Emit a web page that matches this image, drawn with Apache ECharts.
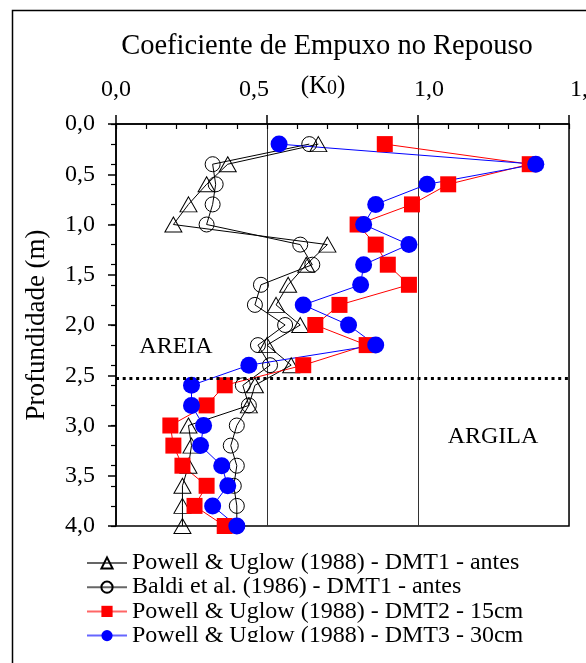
<!DOCTYPE html>
<html>
<head>
<meta charset="utf-8">
<script src="https://cdn.jsdelivr.net/npm/echarts@6/dist/echarts.min.js"></script>
<style>
  html, body { margin: 0; padding: 0; background: #fff; }
  #chart { width: 586px; height: 663px; }
</style>
</head>
<body>
<div id="chart"></div>
<script>
// Depth of each reading (m)
const depth = [0.2, 0.4, 0.6, 0.8, 1.0, 1.2, 1.4, 1.6, 1.8, 2.0,
               2.2, 2.4, 2.6, 2.8, 3.0, 3.2, 3.4, 3.6, 3.8, 4.0];

// K0 profiles
const k0PowellDmt1 = [0.67, 0.37, 0.30, 0.24, 0.19, 0.70, 0.63, 0.57, 0.53, 0.61,
                      0.50, 0.58, 0.46, 0.44, 0.24, 0.25, 0.24, 0.22, 0.22, 0.22];
const k0BaldiDmt1  = [0.64, 0.32, 0.33, 0.32, 0.30, 0.61, 0.65, 0.48, 0.46, 0.56,
                      0.47, 0.51, 0.42, 0.44, 0.40, 0.38, 0.40, 0.39, 0.40, 0.40];
const k0PowellDmt2 = [0.89, 1.37, 1.10, 0.98, 0.80, 0.86, 0.90, 0.97, 0.74, 0.66,
                      0.83, 0.62, 0.36, 0.30, 0.18, 0.19, 0.22, 0.30, 0.26, 0.36];
const k0PowellDmt3 = [0.54, 1.39, 1.03, 0.86, 0.82, 0.97, 0.82, 0.81, 0.62, 0.77,
                      0.86, 0.44, 0.25, 0.25, 0.29, 0.28, 0.35, 0.37, 0.32, 0.40];

const seriesNames = [
  'Powell & Uglow (1988) - DMT1 - antes',
  'Baldi et al. (1986) - DMT1 - antes',
  'Powell & Uglow (1988) - DMT2 - 15cm',
  'Powell & Uglow (1988) - DMT3 - 30cm'
];

// Sand / clay boundary depth (m)
const layerBoundary = [2.53];

const xTickLabels = ['0,0', '0,5', '1,0', '1,5'];
const yTickLabels = ['0,0', '0,5', '1,0', '1,5', '2,0', '2,5', '3,0', '3,5', '4,0'];

const FONT = '"Liberation Serif", "Times New Roman", serif';
const txt = { fontFamily: FONT, fontSize: 24, color: '#000' };

// horizontal nudges for the top tick labels
const xLabelShift = [0, -13, 11, 16];
const xRich = {};
xLabelShift.forEach((d, i) => {
  xRich['t' + i] = Object.assign({}, txt, {
    padding: d < 0 ? [0, -2 * d, 0, 0] : [0, 0, 0, 2 * d]
  });
});

const pairs = k => depth.map((d, i) => [k[i], d]);

const chart = echarts.init(document.getElementById('chart'), null, { renderer: 'canvas' });

chart.setOption({
  animation: false,
  backgroundColor: '#fff',
  grid: {
    left: 116, top: 124, width: 453, height: 402,
    containLabel: false, outerBoundsMode: 'none',
    show: true, borderColor: '#000', borderWidth: 1.5, backgroundColor: 'transparent'
  },
  xAxis: [
    {
      type: 'value', position: 'top', min: 0, max: 1.5, interval: 0.5,
      axisLine: { show: true, lineStyle: { color: '#000', width: 1.5 } },
      axisTick: { show: true, inside: false, length: 9, lineStyle: { color: '#000', width: 1.5 } },
      splitLine: { show: true, lineStyle: { color: '#333', width: 1 } },
      axisLabel: {
        margin: 22,
        formatter: (v, i) => '{t' + i + '|' + xTickLabels[i] + '}',
        rich: xRich
      }
    },
    {
      type: 'value', position: 'top', min: 0, max: 1.5, interval: 0.1,
      axisLine: { show: false },
      axisTick: { show: true, inside: true, length: 5, lineStyle: { color: '#000', width: 1.2 } },
      splitLine: { show: false },
      axisLabel: { show: false }
    }
  ],
  yAxis: [
    {
      type: 'value', inverse: true, min: 0, max: 4, interval: 0.5,
      name: 'Profundidade (m)', nameLocation: 'middle', nameRotate: 90, nameGap: 66,
      nameTextStyle: { fontFamily: FONT, fontSize: 27, color: '#000' },
      axisLine: { show: true, lineStyle: { color: '#000', width: 1.5 } },
      axisTick: { show: true, inside: false, length: 8, lineStyle: { color: '#000', width: 1.5 } },
      splitLine: { show: false },
      axisLabel: Object.assign({}, txt, {
        margin: 21,
        padding: [8, 0, 0, 0],
        formatter: (v, i) => yTickLabels[i]
      })
    },
    {
      type: 'value', inverse: true, min: 0, max: 4, interval: 0.2,
      axisLine: { show: false },
      axisTick: { show: true, inside: true, length: 5, lineStyle: { color: '#000', width: 1.2 } },
      splitLine: { show: false },
      axisLabel: { show: false }
    }
  ],
  legend: {
    orient: 'vertical', left: 86, top: 551, padding: 0,
    itemWidth: 40, itemHeight: 14, itemGap: 0.2,
    lineStyle: { opacity: 0.6 },
    textStyle: Object.assign({}, txt, { lineHeight: 20 }),
    data: seriesNames
  },
  series: [
    {
      name: seriesNames[0], type: 'line', data: pairs(k0PowellDmt1),
      symbol: 'triangle', symbolSize: [17, 15],
      lineStyle: { color: '#000', width: 1 },
      itemStyle: { color: 'rgba(255,255,255,0)', borderColor: '#000', borderWidth: 1 },
      markLine: {
        silent: true, symbol: ['none', 'none'], label: { show: false },
        lineStyle: { color: '#000', width: 3, type: [3, 3.7] },
        data: layerBoundary.map(d => ({ yAxis: d }))
      }
    },
    {
      name: seriesNames[1], type: 'line', data: pairs(k0BaldiDmt1),
      symbol: 'circle', symbolSize: 15,
      lineStyle: { color: '#000', width: 1 },
      itemStyle: { color: 'rgba(255,255,255,0)', borderColor: '#000', borderWidth: 1 }
    },
    {
      name: seriesNames[2], type: 'line', data: pairs(k0PowellDmt2),
      symbol: 'rect', symbolSize: 16,
      lineStyle: { color: '#ff0000', width: 1 },
      itemStyle: { color: '#ff0000' }
    },
    {
      name: seriesNames[3], type: 'line', data: pairs(k0PowellDmt3),
      symbol: 'circle', symbolSize: 17,
      lineStyle: { color: '#0000ff', width: 1 },
      itemStyle: { color: '#0000ff' }
    }
  ],
  graphic: [
    {
      type: 'rect', z: 100, silent: true,
      shape: { x: 12.5, y: 10.5, width: 600, height: 700 },
      style: { fill: 'none', stroke: '#000', lineWidth: 1.5 }
    },
    {
      type: 'rect', z: 99, silent: true,
      shape: { x: 14, y: 642, width: 572, height: 21 },
      style: { fill: '#fff' }
    },
    {
      type: 'text', z: 100, x: 327, y: 47,
      style: { text: 'Coeficiente de Empuxo no Repouso', fontFamily: FONT, fontSize: 28.5,
               fill: '#000', align: 'center', verticalAlign: 'middle' }
    },
    {
      type: 'text', z: 100, x: 323, y: 86,
      style: {
        text: '(K{s|0})', fontFamily: FONT, fontSize: 25, fill: '#000',
        align: 'center', verticalAlign: 'middle',
        rich: { s: { fontFamily: FONT, fontSize: 20, fill: '#000', padding: [6, 0, 0, 0] } }
      }
    },
    {
      type: 'text', z: 100, x: 176, y: 347,
      style: { text: 'AREIA', fontFamily: FONT, fontSize: 24, fill: '#000',
               align: 'center', verticalAlign: 'middle' }
    },
    {
      type: 'text', z: 100, x: 493, y: 437,
      style: { text: 'ARGILA', fontFamily: FONT, fontSize: 24, fill: '#000',
               align: 'center', verticalAlign: 'middle' }
    }
  ]
});
</script>
</body>
</html>
